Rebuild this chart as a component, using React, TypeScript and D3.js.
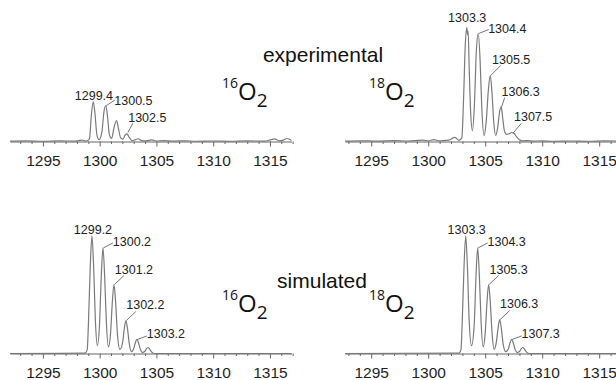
import React, { useEffect, useRef } from 'react';
import * as d3 from 'd3';

type Pt = [number, number];
type Lay = { dx: number; dy: number; lead?: [number, number, number, number] };

// spectra: [m/z, relative intensity]
const expO16: Pt[] = [
  [1292.1, 0.3], [1293.5, 0.5], [1295, 0.2], [1296.5, 0.5], [1297.8, 0.3], [1298.4, 1.2], [1298.8, 0.4],
  [1299.1, 2], [1299.25, 20], [1299.43, 33], [1299.58, 24], [1299.75, 6], [1299.95, 1.5],
  [1300.2, 8], [1300.38, 25], [1300.55, 30], [1300.7, 20], [1300.85, 6], [1301.05, 2.5],
  [1301.25, 11], [1301.49, 17.5], [1301.65, 11], [1301.85, 3], [1302.05, 2],
  [1302.25, 5.5], [1302.4, 6.4], [1302.6, 3.5], [1302.85, 0.8], [1303.15, 1.5], [1303.4, 2.3],
  [1303.7, 0.8], [1304.1, 0.5], [1304.6, 1.3], [1305, 0.4], [1305.6, 0.8], [1306.5, 0.3],
  [1307.5, 0.6], [1308.5, 0.2], [1310, 0.4], [1311.5, 0.2], [1313, 0.5], [1314.5, 0.3],
  [1315.1, 1.5], [1315.4, 2.2], [1315.8, 0.6], [1316.2, 1.2], [1316.5, 2.5], [1316.9, 0.8],
];

const expO18: Pt[] = [
  [1292.7, 0.3], [1294, 0.6], [1295.5, 0.3], [1297, 0.8], [1298.2, 0.4], [1299.5, 1.2], [1300, 0.5],
  [1300.5, 1.5], [1301, 0.6], [1301.8, 1.2], [1302.35, 3.5], [1302.7, 1], [1302.95, 3],
  [1303.1, 35], [1303.25, 80], [1303.38, 95], [1303.45, 89], [1303.5, 92], [1303.6, 60], [1303.72, 25], [1303.88, 9],
  [1304.05, 30], [1304.22, 75], [1304.39, 90], [1304.55, 68], [1304.7, 28], [1304.9, 5],
  [1305.1, 18], [1305.27, 42], [1305.44, 55], [1305.6, 40], [1305.75, 16], [1305.92, 5],
  [1306.1, 12], [1306.25, 24], [1306.4, 29], [1306.53, 20], [1306.68, 9], [1306.85, 6],
  [1307.1, 6.5], [1307.3, 7.5], [1307.5, 7], [1307.75, 4], [1308, 1.5], [1308.3, 0.5],
  [1308.7, 0.8], [1309.2, 0.3], [1310, 0.5], [1311, 0.2], [1312.5, 0.4], [1314, 0.2], [1315.5, 0.5], [1317, 0.3],
];

const simO16: Pt[] = [
  [1292.1, 0], [1298.7, 0.3], [1298.9, 3], [1299.02, 28], [1299.17, 72], [1299.32, 98], [1299.47, 72], [1299.62, 28],
  [1299.8, 6.5], [1299.99, 25], [1300.14, 64], [1300.29, 88], [1300.44, 64], [1300.59, 26],
  [1300.77, 5.5], [1300.96, 17], [1301.11, 42], [1301.26, 57.5], [1301.41, 42], [1301.56, 17],
  [1301.78, 3.5], [1302.01, 8.5], [1302.16, 20], [1302.31, 27.5], [1302.46, 20], [1302.61, 8],
  [1302.8, 1.5], [1302.98, 3.5], [1303.13, 8.5], [1303.28, 11.7], [1303.43, 8.5], [1303.58, 3.5],
  [1303.77, 0.8], [1303.97, 1.6], [1304.1, 3.7], [1304.25, 5], [1304.4, 3.7], [1304.55, 1.5],
  [1304.8, 0], [1316.9, 0],
];

const simO18: Pt[] = [
  [1292.7, 0], [1302.7, 0.3], [1302.87, 3], [1302.99, 28], [1303.14, 72], [1303.29, 98], [1303.44, 72], [1303.59, 28],
  [1303.8, 6.5], [1304.04, 25], [1304.19, 64], [1304.34, 88], [1304.49, 64], [1304.64, 26],
  [1304.82, 5.5], [1305.0, 17], [1305.15, 42], [1305.3, 57.5], [1305.45, 42], [1305.6, 17],
  [1305.79, 3.5], [1305.97, 9], [1306.12, 20.5], [1306.27, 28.3], [1306.42, 20.5], [1306.57, 8],
  [1306.8, 1.5], [1307.02, 3.5], [1307.17, 8.5], [1307.32, 11.7], [1307.47, 8.5], [1307.62, 3.5],
  [1307.8, 0.8], [1308.01, 1.6], [1308.14, 3.7], [1308.29, 5], [1308.44, 3.7], [1308.59, 1.5],
  [1308.85, 0], [1317, 0],
];

// peak labels and the peak each one points at
const expO16Labels = ['1299.4', '1300.5', '1302.5'];
const expO16Anchors: Pt[] = [[1299.43, 33], [1300.55, 30], [1302.4, 6.4]];
const expO18Labels = ['1303.3', '1304.4', '1305.5', '1306.3', '1307.5'];
const expO18Anchors: Pt[] = [[1303.42, 95], [1304.39, 90], [1305.44, 55], [1306.4, 29], [1307.45, 7]];
const simO16Labels = ['1299.2', '1300.2', '1301.2', '1302.2', '1303.2'];
const simO16Anchors: Pt[] = [[1299.32, 98], [1300.29, 88], [1301.26, 57.5], [1302.31, 27.5], [1303.28, 11.7]];
const simO18Labels = ['1303.3', '1304.3', '1305.3', '1306.3', '1307.3'];
const simO18Anchors: Pt[] = [[1303.29, 98], [1304.34, 88], [1305.3, 57.5], [1306.27, 28.3], [1307.32, 11.7]];

const majorTicks = [1295, 1300, 1305, 1310, 1315];
const minorTicks = d3.range(1293, 1318);

// label placement relative to the peak top (px)
const expO16Layout: Lay[] = [
  { dx: 0.7, dy: -2 },
  { dx: 27.5, dy: -1, lead: [0.5, 0, 9, -5.5] },
  { dx: 20.4, dy: -12.3, lead: [1, -1.5, 6, -10.6] },
];
const expO18Layout: Lay[] = [
  { dx: 0, dy: -6 },
  { dx: 29, dy: -0.5, lead: [0.5, 0, 10.5, -4] },
  { dx: 21, dy: -12, lead: [0.5, 0, 10.5, -10] },
  { dx: 19.5, dy: -11, lead: [0.5, 0, 3.5, -9] },
  { dx: 20, dy: -12.6, lead: [0, 0, 8, -9.6] },
];
const simLayout: Lay[] = [
  { dx: 1, dy: -2.4 },
  { dx: 29, dy: -2.4, lead: [0.5, 0, 10, -5] },
  { dx: 20, dy: -11, lead: [0.5, 0, 10, -9] },
  { dx: 19.5, dy: -12, lead: [0.5, 0, 10, -9] },
  { dx: 29, dy: -1, lead: [0.5, 0, 10, -3.5] },
];

const panels = [
  { trace: expO16, labels: expO16Labels, anchors: expO16Anchors, layout: expO16Layout, left: true, base: 141.5, iso: '16' },
  { trace: expO18, labels: expO18Labels, anchors: expO18Anchors, layout: expO18Layout, left: false, base: 141.5, iso: '18' },
  { trace: simO16, labels: simO16Labels, anchors: simO16Anchors, layout: simLayout, left: true, base: 353.5, iso: '16' },
  { trace: simO18, labels: simO18Labels, anchors: simO18Anchors, layout: simLayout, left: false, base: 353.5, iso: '18' },
];

const W = 616;
const H = 380;

function App() {
  const ref = useRef<SVGSVGElement>(null);

  useEffect(() => {
    const svg = d3.select(ref.current);
    svg.selectAll('*').remove();

    panels.forEach((p) => {
      const x = p.left
        ? d3.scaleLinear().domain([1292.1, 1316.9]).range([10, 291.5])
        : d3.scaleLinear().domain([1292.7, 1317]).range([345, 622]);
      const y = d3.scaleLinear().domain([0, 100]).range([p.base, p.base - 120]);
      const g = svg.append('g');

      // minor ticks
      const minor = g.append('g')
        .attr('transform', `translate(0,${p.base})`)
        .call(d3.axisBottom(x).tickValues(minorTicks.filter((t) => t % 5 !== 0)).tickSize(2.5).tickFormat(() => ''));
      minor.select('.domain').remove();
      minor.selectAll('line').attr('stroke', '#666');

      // major ticks + line
      const major = g.append('g')
        .attr('transform', `translate(0,${p.base})`)
        .call(d3.axisBottom(x).tickValues(majorTicks).tickSize(5).tickSizeOuter(0).tickPadding(8.5).tickFormat(d3.format('d')));
      major.select('.domain').attr('stroke', '#666');
      major.selectAll('line').attr('stroke', '#666');
      major.selectAll('text')
        .attr('font-family', 'Liberation Sans, Arial, sans-serif')
        .attr('font-size', 15.5)
        .attr('fill', '#1e1e1e');

      // spectrum
      const line = d3.line<Pt>()
        .x((d) => x(d[0]))
        .y((d) => y(d[1]))
        .curve(d3.curveMonotoneX);
      g.append('path')
        .datum(p.trace)
        .attr('d', line)
        .attr('fill', 'none')
        .attr('stroke', '#7a7a7a')
        .attr('stroke-width', 1.2);

      // peak labels
      p.labels.forEach((lab, i) => {
        const ax = x(p.anchors[i][0]);
        const ay = y(p.anchors[i][1]);
        const lay = p.layout[i];
        if (lay.lead) {
          g.append('line')
            .attr('x1', ax + lay.lead[0])
            .attr('y1', ay + lay.lead[1])
            .attr('x2', ax + lay.lead[2])
            .attr('y2', ay + lay.lead[3])
            .attr('stroke', '#666')
            .attr('stroke-width', 0.9);
        }
        g.append('text')
          .attr('x', ax + lay.dx)
          .attr('y', ay + lay.dy)
          .attr('text-anchor', 'middle')
          .attr('font-family', 'Liberation Sans, Arial, sans-serif')
          .attr('font-size', 12.5)
          .attr('fill', '#222')
          .text(lab);
      });

      // isotope label
      const t = g.append('text')
        .attr('x', p.left ? 222 : 369)
        .attr('y', p.base - 41.5)
        .attr('font-family', 'Open Sans, Noto Sans, sans-serif')
        .attr('fill', '#111');
      t.append('tspan').attr('font-size', 14).attr('dy', -12).text(p.iso);
      t.append('tspan').attr('font-size', 24).attr('dy', 12).text('O');
      t.append('tspan').attr('font-size', 19).attr('dy', 7).text('2');
    });

    svg.append('text')
      .attr('x', 323)
      .attr('y', 62)
      .attr('text-anchor', 'middle')
      .attr('font-family', 'Liberation Sans, Arial, sans-serif')
      .attr('font-size', 21)
      .attr('fill', '#111')
      .text('experimental');
    svg.append('text')
      .attr('x', 322)
      .attr('y', 288)
      .attr('text-anchor', 'middle')
      .attr('font-family', 'Liberation Sans, Arial, sans-serif')
      .attr('font-size', 21)
      .attr('fill', '#111')
      .text('simulated');
  }, []);

  return (
    <svg
      ref={ref}
      width={W}
      height={H}
      style={{ position: 'absolute', left: 0, top: 0, display: 'block', background: '#fff' }}
    />
  );
}

export default App;
